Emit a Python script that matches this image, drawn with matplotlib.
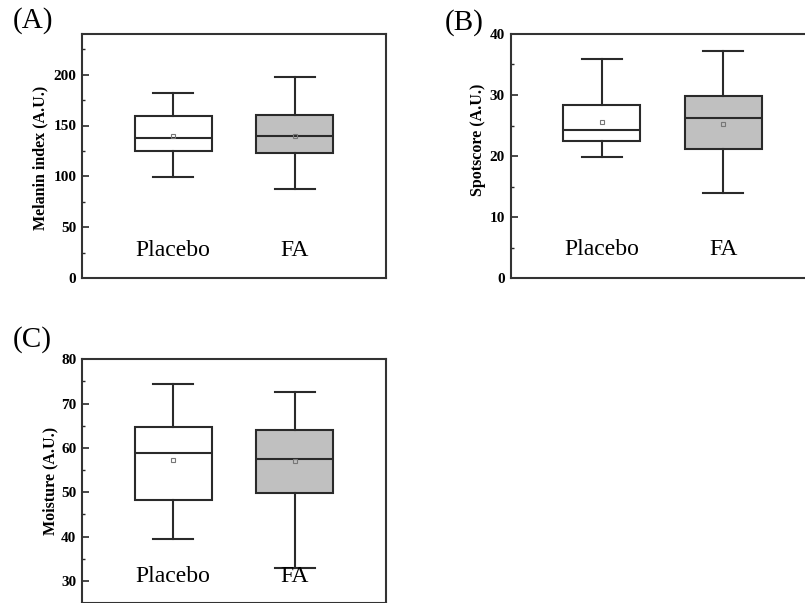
import matplotlib
matplotlib.use("Agg")
import matplotlib.pyplot as plt
from matplotlib.ticker import MultipleLocator

plt.rcParams['font.family'] = ['Liberation Serif', 'DejaVu Serif']

groups = ["Placebo", "FA"]
fills = ["white", "#c0c0c0"]

# stats per panel: whislo, q1, med, q3, whishi, mean for Placebo and FA
melanin_lo = [99, 88]
melanin_q1 = [124.5, 122.5]
melanin_med = [138, 139.7]
melanin_q3 = [159.5, 160.5]
melanin_hi = [181.5, 197.3]
melanin_mean = [139.3, 139.3]

spot_lo = [19.8, 13.9]
spot_q1 = [22.5, 21.2]
spot_med = [24.3, 26.2]
spot_q3 = [28.3, 29.9]
spot_hi = [35.9, 37.2]
spot_mean = [25.5, 25.3]

moist_lo = [39.4, 33.0]
moist_q1 = [48.3, 49.8]
moist_med = [58.8, 57.6]
moist_q3 = [64.8, 64.0]
moist_hi = [74.5, 72.6]
moist_mean = [57.2, 57.1]

panels = [
    dict(tag="(A)", ylabel="Melanin index (A.U.)", ylim=(0, 240), major=50, minor=25,
         lo=melanin_lo, q1=melanin_q1, med=melanin_med, q3=melanin_q3, hi=melanin_hi,
         mean=melanin_mean, text_y=27.5,
         pos=[82/805, (603-278)/603, 304/805, 244/603], label_xy=(-0.112, 0.494),
         tag_xy=(13/805, 1-20.5/603)),
    dict(tag="(B)", ylabel="Spotscore (A.U.)", ylim=(0, 40), major=10, minor=5,
         lo=spot_lo, q1=spot_q1, med=spot_med, q3=spot_q3, hi=spot_hi,
         mean=spot_mean, text_y=4.6,
         pos=[510.5/805, (603-278)/603, 304/805, 244/603], label_xy=(-0.081, 0.565),
         tag_xy=(445/805, 1-22.5/603)),
    dict(tag="(C)", ylabel="Moisture (A.U.)", ylim=(25, 80), major=10, minor=5,
         lo=moist_lo, q1=moist_q1, med=moist_med, q3=moist_q3, hi=moist_hi,
         mean=moist_mean, text_y=30.9,
         pos=[82/805, 0.0, 304/805, 243.7/603], label_xy=(-0.079, 0.5),
         tag_xy=(13/805, 1-339.5/603)),
]

fig = plt.figure(figsize=(8.05, 6.03), dpi=100)
line_c = "#2a2a2a"

for p in panels:
    ax = fig.add_axes(p["pos"])
    stats = []
    for i, g in enumerate(groups):
        stats.append(dict(label=g, whislo=p["lo"][i], q1=p["q1"][i], med=p["med"][i],
                          q3=p["q3"][i], whishi=p["hi"][i], mean=p["mean"][i], fliers=[]))
    bp = ax.bxp(stats, positions=[1, 2], widths=0.63, capwidths=0.33, showmeans=True,
                patch_artist=True, showfliers=False,
                boxprops=dict(edgecolor=line_c, linewidth=1.5),
                whiskerprops=dict(color=line_c, linewidth=1.5),
                capprops=dict(color=line_c, linewidth=1.5),
                medianprops=dict(color=line_c, linewidth=1.5),
                meanprops=dict(marker='s', markersize=3.2, markerfacecolor='none',
                               markeredgecolor='#777777', markeredgewidth=0.8))
    for patch, fc in zip(bp['boxes'], fills):
        patch.set_facecolor(fc)
    ax.set_xlim(0.25, 2.75)
    ax.set_ylim(*p["ylim"])
    ax.set_xticks([])
    ax.yaxis.set_major_locator(MultipleLocator(p["major"]))
    ax.yaxis.set_minor_locator(MultipleLocator(p["minor"]))
    ax.tick_params(axis='y', which='major', direction='in', length=5, width=1.2,
                   labelsize=11, pad=4, color=line_c)
    ax.tick_params(axis='y', which='minor', direction='in', length=2.5, width=1.0,
                   color=line_c)
    for lab in ax.get_yticklabels():
        lab.set_fontweight('bold')
    for s in ax.spines.values():
        s.set_linewidth(1.5)
        s.set_color("#333333")
    ax.set_ylabel(p["ylabel"], fontsize=11.5, fontweight='bold')
    ax.yaxis.set_label_coords(*p["label_xy"])
    for i, g in enumerate(groups):
        ax.text(i + 1, p["text_y"], g, ha='center', va='center', fontsize=17)
    fig.text(p["tag_xy"][0], p["tag_xy"][1], p["tag"], ha='left', va='center', fontsize=21)

fig.savefig("out.png", dpi=100)
